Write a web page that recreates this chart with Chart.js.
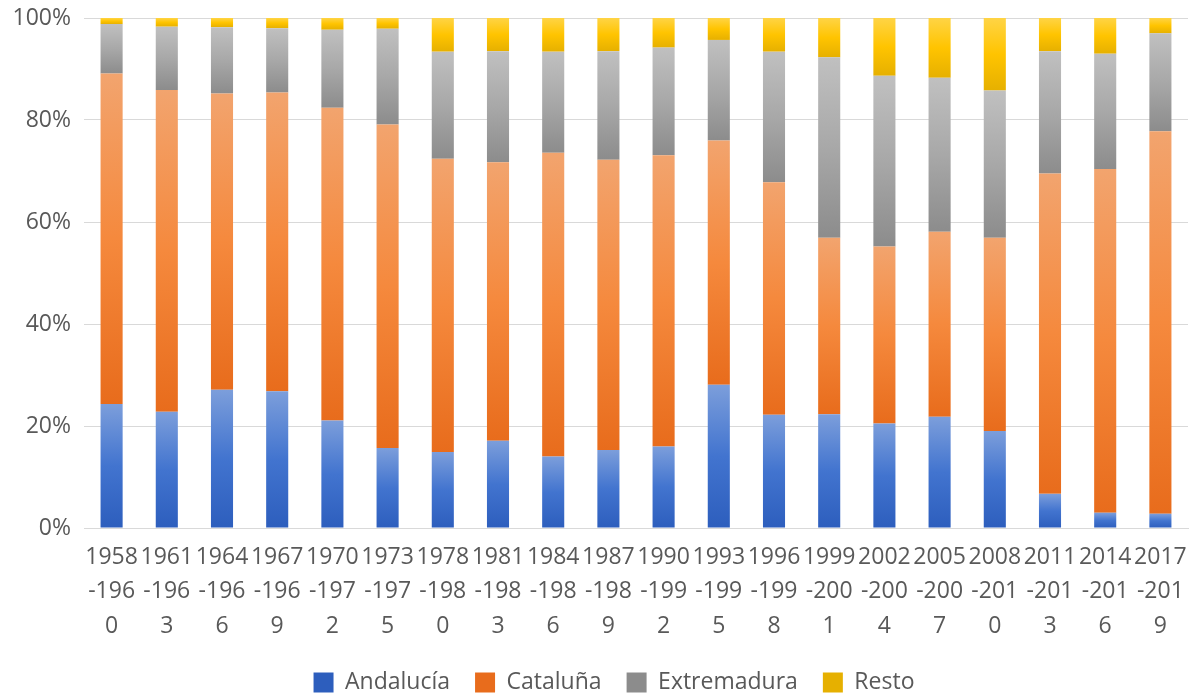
<!DOCTYPE html>
<html>
<head>
<meta charset="utf-8">
<script src="https://cdn.jsdelivr.net/npm/chart.js@4.4.0/dist/chart.umd.min.js"></script>
<style>
  html, body { margin: 0; padding: 0; background: #fff; }
  #wrap { width: 1190px; height: 700px; }
</style>
</head>
<body>
<div id="wrap"><canvas id="chart"></canvas></div>
<script>
// periods on the x axis
const periods = ['1958-1960', '1961-1963', '1964-1966', '1967-1969', '1970-1972',
  '1973-1975', '1978-1980', '1981-1983', '1984-1986', '1987-1989', '1990-1992',
  '1993-1995', '1996-1998', '1999-2001', '2002-2004', '2005-2007', '2008-2010',
  '2011-2013', '2014-2016', '2017-2019'];

// share of each origin, in %
const andalucia   = [24.3, 22.8, 27.1, 26.8, 21.1, 15.7, 14.9, 17.1, 14.0, 15.3,
                     16.0, 28.1, 22.2, 22.3, 20.5, 21.8, 19.0, 6.7, 3.0, 2.8];
const cataluna    = [64.8, 63.1, 58.1, 58.6, 61.3, 63.4, 57.5, 54.6, 59.6, 56.9,
                     57.1, 47.9, 45.6, 34.6, 34.7, 36.3, 37.9, 62.8, 67.4, 75.0];
const extremadura = [9.7, 12.4, 13.0, 12.6, 15.3, 18.8, 21.0, 21.8, 19.8, 21.3,
                     21.1, 19.7, 25.6, 35.4, 33.5, 30.2, 28.9, 24.0, 22.6, 19.2];
const resto       = [1.2, 1.7, 1.8, 2.0, 2.3, 2.1, 6.6, 6.5, 6.6, 6.5,
                     5.8, 4.3, 6.6, 7.7, 11.3, 11.7, 14.2, 6.5, 7.0, 3.0];

const seriesNames = ['Andalucía', 'Cataluña', 'Extremadura', 'Resto'];
const yTicks = [0, 20, 40, 60, 80, 100];

const series = [andalucia, cataluna, extremadura, resto];
const palette = [
  ['#7c9edb', '#4274cf', '#2d5ebd'],
  ['#f2a46e', '#f5893d', '#e86c1c'],
  ['#c0c0c0', '#a8a8a8', '#8c8c8c'],
  ['#ffd445', '#ffc400', '#e6b000']
];
const textColor = '#595959';
const font = "'Open Sans', 'Noto Sans', sans-serif";

// excel style gradient inside each segment, light on top
function segmentFill(di) {
  return function(c) {
    const chart = c.chart;
    const yScale = chart.scales.y;
    if (!chart.chartArea || !yScale || c.type !== 'data') return palette[di][1];
    let base = 0;
    for (let k = 0; k < di; k++) base += series[k][c.dataIndex];
    const top = base + series[di][c.dataIndex];
    const y0 = yScale.getPixelForValue(top);
    const y1 = yScale.getPixelForValue(base);
    if (!isFinite(y0) || !isFinite(y1) || y1 - y0 < 1) return palette[di][1];
    const g = chart.ctx.createLinearGradient(0, y0, 0, y1);
    g.addColorStop(0, palette[di][0]);
    g.addColorStop(0.5, palette[di][1]);
    g.addColorStop(1, palette[di][2]);
    return g;
  };
}

// split "1958-1960" the way excel wraps it: 1958 / -196 / 0
function wrapLabel(s) {
  const out = [];
  for (let i = 0; i < s.length; i += 4) out.push(s.slice(i, i + 4));
  return out;
}

const datasets = series.map((data, i) => ({
  label: seriesNames[i],
  data: data,
  backgroundColor: segmentFill(i),
  borderWidth: 0,
  barPercentage: 0.4,
  categoryPercentage: 1.0
}));

// the legend sits a little right of centre in the original
const legendShift = {
  id: 'legendShift',
  afterLayout(chart) {
    if (chart.legend) {
      chart.legend.left += 20;
      chart.legend.right += 20;
    }
  }
};

new Chart(document.getElementById('chart'), {
  type: 'bar',
  data: { labels: periods.map(wrapLabel), datasets: datasets },
  plugins: [legendShift],
  options: {
    responsive: true,
    maintainAspectRatio: false,
    animation: false,
    layout: { padding: { top: 18, right: 2, left: 0, bottom: 0 } },
    scales: {
      x: {
        stacked: true,
        grid: { display: false, drawTicks: false },
        border: { display: true, color: '#d9d9d9', width: 1 },
        ticks: {
          autoSkip: false, maxRotation: 0, minRotation: 0,
          padding: 12, color: textColor,
          font: { family: font, size: 23, lineHeight: 1.5 }
        },
        afterFit: function(axis) {
          axis.height = 118;
          axis.paddingLeft = 0;
          axis.paddingRight = 0;
        }
      },
      y: {
        stacked: true,
        min: 0, max: 100,
        afterBuildTicks: function(axis) { axis.ticks = yTicks.map(v => ({ value: v })); },
        grid: { color: '#d9d9d9', lineWidth: 1, drawTicks: false },
        border: { display: false },
        ticks: {
          padding: 13, color: textColor,
          font: { family: font, size: 23, lineHeight: 1.2 },
          callback: function(v) { return v + '%'; }
        },
        afterFit: function(axis) {
          axis.width = 84;
          axis.paddingTop = 0;
          axis.paddingBottom = 0;
        }
      }
    },
    plugins: {
      legend: {
        position: 'bottom',
        maxHeight: 54,
        labels: {
          boxWidth: 20, boxHeight: 20, padding: 25,
          color: textColor,
          font: { family: font, size: 23 }
        }
      },
      tooltip: { enabled: false }
    }
  }
});
</script>
</body>
</html>
